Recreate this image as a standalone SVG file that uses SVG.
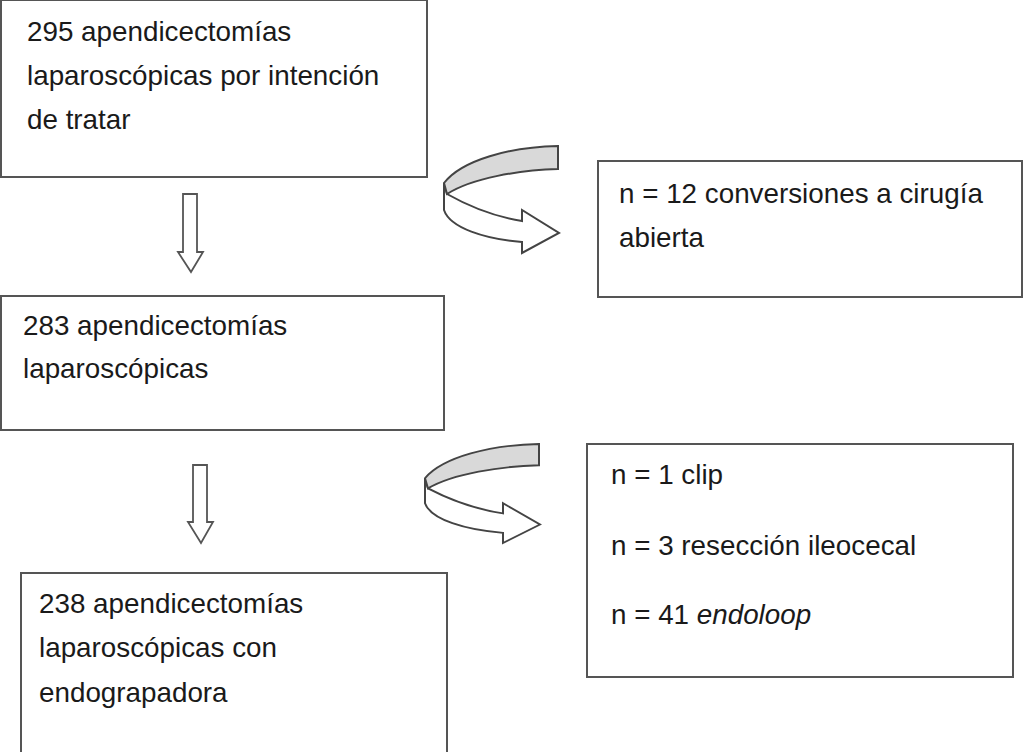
<svg xmlns="http://www.w3.org/2000/svg" width="1024" height="752" viewBox="0 0 1024 752">
<style>
.box{fill:#fff;stroke:#555;stroke-width:2}
.t{font-family:"Liberation Sans",Arial,sans-serif;font-size:27.8px;fill:#1a1a1a}
.arr{fill:#fff;stroke:#555;stroke-width:1.8;stroke-linejoin:miter}
.band{fill:#d9d9d9;stroke:#444;stroke-width:2}
.front{fill:#fff;stroke:#444;stroke-width:2;stroke-linejoin:miter}
</style>
<defs>
<g id="curl">
<path class="front" d="M447,194 C470,207 497,217 522,221 L522,210 L559,233 L522,253 L522,242 C485,239 450,228 444,210 L444,183 Z"/>
<path class="band" d="M558,146 L558,169 C520,170 472,178 447,194 L444,183 C462,160 510,147 558,146 Z"/>
</g>
</defs>
<rect width="1024" height="752" fill="#fff"/>
<g id="box1">
<rect class="box" x="1" y="0" width="426" height="177"/>
<text class="t" x="27" y="41">295 apendicectomías</text>
<text class="t" x="27" y="85">laparoscópicas por intención</text>
<text class="t" x="27" y="129">de tratar</text>
</g>
<g id="box2">
<rect class="box" x="598" y="161" width="424" height="136"/>
<text class="t" x="619" y="203">n = 12 conversiones a cirugía</text>
<text class="t" x="619" y="247">abierta</text>
</g>
<g id="box3">
<rect class="box" x="1" y="296" width="443" height="134"/>
<text class="t" x="23" y="335">283 apendicectomías</text>
<text class="t" x="23" y="378">laparoscópicas</text>
</g>
<g id="box4">
<rect class="box" x="587" y="444" width="426" height="233"/>
<text class="t" x="611" y="484">n = 1 clip</text>
<text class="t" x="611" y="555">n = 3 resección ileocecal</text>
<text class="t" x="611" y="624">n = 41 <tspan font-style="italic">endoloop</tspan></text>
</g>
<g id="box5">
<rect class="box" x="21" y="573" width="426" height="180"/>
<text class="t" x="39" y="613">238 apendicectomías</text>
<text class="t" x="39" y="657">laparoscópicas con</text>
<text class="t" x="39" y="702">endograpadora</text>
</g>
<g id="connectors">
<path class="arr" d="M183,194 L197,194 L197,252 L203,252 L191,272 L178,252 L183,252 Z"/>
<path class="arr" d="M193,465 L207,465 L207,522 L213,522 L201,543 L188,522 L193,522 Z"/>
<use href="#curl"/>
<use href="#curl" transform="translate(426,444) scale(1,0.925) translate(-445,-146)"/>
</g>
</svg>
